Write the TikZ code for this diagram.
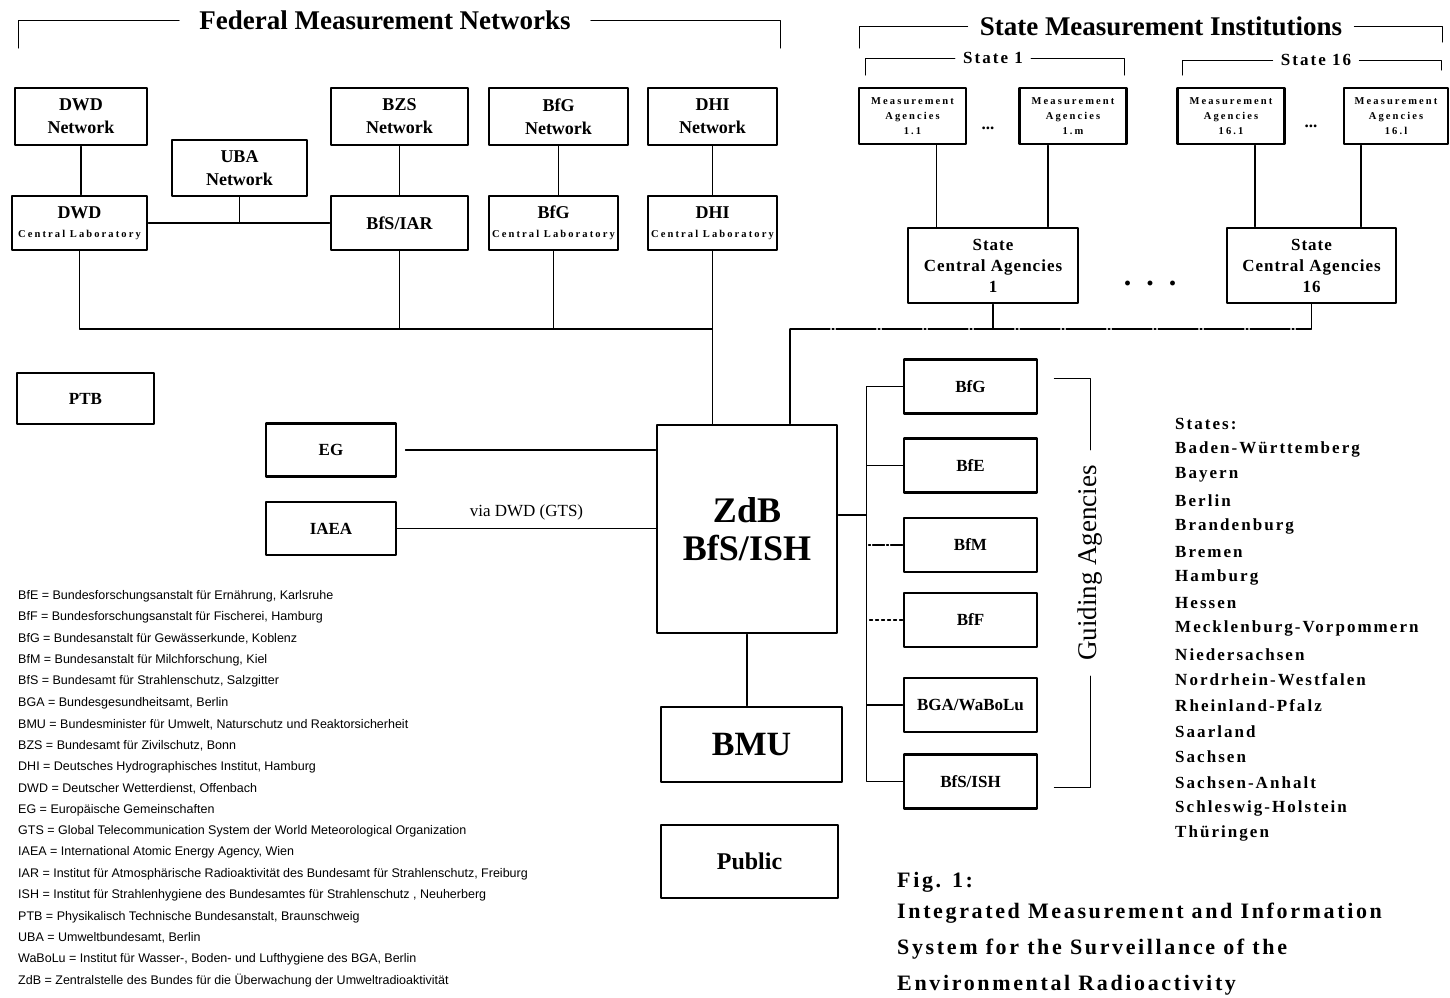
\documentclass[tikz,border=0pt]{standalone}
\usepackage{fontspec}
\setmainfont{Liberation Serif}
\newfontfamily\legendfont{Liberation Sans}
\newfontfamily\lightspacedfont[LetterSpace=6]{Liberation Serif}
\newfontfamily\spacedfont[LetterSpace=12]{Liberation Serif}
\newfontfamily\widefont[LetterSpace=20]{Liberation Serif}
\providecommand{\imisBoxLineWidth}{2.9pt}
\providecommand{\imisLinkLineWidth}{1.1pt}
\tikzset{
  agency/.style={draw, line width=\imisBoxLineWidth, align=center, inner sep=0pt,
    font=\bfseries\fontsize{18}{23}\selectfont},
  netbox/.style={agency, minimum height=57pt},
  labbox/.style={agency, minimum height=54pt},
  measbox/.style={agency, minimum width=107pt, minimum height=56pt,
    font=\widefont\bfseries\fontsize{10.5}{15}\selectfont},
  guidebox/.style={agency, minimum width=133pt, minimum height=54pt,
    font=\bfseries\fontsize{17}{20}\selectfont},
  link/.style={line width=\imisLinkLineWidth},
  bracket/.style={line width=1pt},
  head/.style={font=\bfseries\fontsize{27}{29}\selectfont, inner xsep=12pt, inner ysep=0pt},
  subhead/.style={font=\spacedfont\bfseries\fontsize{17}{18}\selectfont, inner xsep=8pt, inner ysep=0pt},
  legend/.style={anchor=west, inner sep=0pt, font=\legendfont\fontsize{12.5}{13}\selectfont},
  stateitem/.style={anchor=west, inner sep=0pt, font=\spacedfont\bfseries\fontsize{17}{18}\selectfont},
  caption/.style={anchor=west, inner sep=0pt, font=\spacedfont\bfseries\fontsize{22}{24}\selectfont},
}
\newcommand{\smalllab}[1]{{\widefont\fontsize{10.5}{12}\selectfont #1}}
\begin{document}
\begin{tikzpicture}
% one unit = one pixel of the scanned figure, y running downwards
\begin{scope}[x=1pt, y=-1pt, line cap=round, line join=round]
  \fill[white] (0,0) rectangle (1450,997);
  \useasboundingbox (0,0) rectangle (1450,997);
  % Headers with brackets
  \node[head, inner xsep=20pt] (fedhead) at (385,20) {Federal Measurement Networks};
  \coordinate (fedL) at (18,48);
  \coordinate (fedR) at (780,48);
  \draw[bracket] (fedL) |- (fedhead.west);
  \draw[bracket] (fedhead.east) -| (fedR);
  \node[head] (statehead) at (1161,26) {State Measurement Institutions};
  \coordinate (stateL) at (859,48);
  \coordinate (stateR) at (1442,42);
  \draw[bracket] (stateL) |- (statehead.west);
  \draw[bracket] (statehead.east) -| (stateR);
  \node[subhead] (state1) at (993,58) {State 1};
  \coordinate (state1L) at (865,75);
  \coordinate (state1R) at (1124,75);
  \draw[bracket] (state1L) |- (state1.west);
  \draw[bracket] (state1.east) -| (state1R);
  \node[subhead] (state16) at (1316,60) {State 16};
  \coordinate (state16L) at (1182,75);
  \coordinate (state16R) at (1441,70);
  \draw[bracket] (state16L) |- (state16.west);
  \draw[bracket] (state16.east) -| (state16R);
  % Federal networks
  \node[netbox, minimum width=132pt] (dwdnet) at (81,116.5) {DWD\\Network};
  \node[netbox, minimum width=135pt, minimum height=56pt] (ubanet) at (239.5,168) {UBA\\Network};
  \node[netbox, minimum width=137pt] (bzsnet) at (399.5,116.5) {BZS\\Network};
  \node[netbox, minimum width=139pt] (bfgnet) at (558.5,116.5) {BfG\\Network};
  \node[netbox, minimum width=129pt] (dhinet) at (712.5,116.5) {DHI\\Network};
  \node[labbox, minimum width=135pt] (dwdlab) at (79.5,223) {DWD\\[-4pt]\smalllab{Central Laboratory}};
  \node[labbox, minimum width=137pt] (bfsiar) at (399.5,223) {BfS/IAR};
  \node[labbox, minimum width=129pt] (bfglab) at (553.5,223) {BfG\\[-4pt]\smalllab{Central Laboratory}};
  \node[labbox, minimum width=129pt] (dhilab) at (712.5,223) {DHI\\[-4pt]\smalllab{Central Laboratory}};
  \draw[link] (dwdnet.south) -- (dwdnet.south |- dwdlab.north);
  \draw[link] (bzsnet.south) -- (bfsiar.north);
  \draw[link] (bfgnet.south) -- (bfgnet.south |- bfglab.north);
  \draw[link] (dhinet.south) -- (dhilab.north);
  \draw[link] (dwdlab.east) -- (bfsiar.west);
  \draw[link] (ubanet.south) -- (ubanet.south |- dwdlab.east);
  % State institutions
  \node[measbox] (ma11) at (912.5,116) {Measurement\\Agencies\\1.1};
  \node[measbox] (ma1m) at (1073,116) {Measurement\\Agencies\\1.m};
  \node[measbox] (ma161) at (1231,116) {Measurement\\Agencies\\16.1};
  \node[measbox, minimum width=104pt] (ma16l) at (1396,116) {Measurement\\Agencies\\16.l};
  \node[font=\bfseries\fontsize{17}{17}\selectfont] (dotsA) at (988,128) {...};
  \node[font=\bfseries\fontsize{17}{17}\selectfont] (dotsB) at (1311,126) {...};
  \node[agency, minimum width=170pt, minimum height=75pt, font=\lightspacedfont\bfseries\fontsize{17}{21}\selectfont] (sca1) at (993,265.5) {State\\Central Agencies\\1};
  \node[agency, minimum width=169pt, minimum height=75pt, font=\lightspacedfont\bfseries\fontsize{17}{21}\selectfont] (sca16) at (1311.5,265.5) {State\\Central Agencies\\16};
  \node[font=\bfseries\fontsize{30}{30}\selectfont] (dotsC) at (1150,283) {.\hspace{15pt}.\hspace{15pt}.};
  \draw[link] ([xshift=24pt]ma11.south) -- ([xshift=24pt]ma11.south |- sca1.north);
  \draw[link] ([xshift=-25pt]ma1m.south) -- ([xshift=-25pt]ma1m.south |- sca1.north);
  \draw[link] ([xshift=24pt]ma161.south) -- ([xshift=24pt]ma161.south |- sca16.north);
  \draw[link] ([xshift=-35pt]ma16l.south) -- ([xshift=-35pt]ma16l.south |- sca16.north);
  % Central node and its partners
  \node[agency, minimum width=180pt, minimum height=208pt, font=\bfseries\fontsize{36}{38}\selectfont] (zdb) at (747,529) {ZdB\\BfS/ISH};
  \node[agency, minimum width=181pt, minimum height=75pt, font=\bfseries\fontsize{34}{36}\selectfont] (bmu) at (751.5,744.5) {BMU};
  \node[agency, minimum width=177pt, minimum height=73pt, font=\bfseries\fontsize{24}{26}\selectfont] (public) at (749.5,861.5) {Public};
  \node[agency, minimum width=137pt, minimum height=51pt, font=\bfseries\fontsize{17}{20}\selectfont] (ptb) at (85.5,398.5) {PTB};
  \node[agency, minimum width=130pt, minimum height=53pt, font=\bfseries\fontsize{17}{20}\selectfont] (eg) at (331,450) {EG};
  \node[agency, minimum width=130pt, minimum height=53pt, font=\bfseries\fontsize{17}{20}\selectfont] (iaea) at (331,528.5) {IAEA};
  \draw[link] (zdb.south) -- (zdb.south |- bmu.north);
  \draw[link] ([xshift=8pt]eg.east) -- (eg.east -| zdb.west);
  \draw[link] (iaea.east) -- node[above=5pt, font=\fontsize{17}{18}\selectfont] (gts) {via DWD (GTS)} (iaea.east -| zdb.west);
  % Buses into ZdB
  \draw[link] (dwdlab.south) |- (dhilab.south |- 0,329);
  \draw[link] (dhilab.south) -- (dhilab.south |- zdb.north);
  \draw[link] (bfsiar.south) -- (bfsiar.south |- 0,329);
  \draw[link] (bfglab.south) -- (bfglab.south |- 0,329);
  \coordinate (zdbin) at (790,329);
  \draw[link, dash pattern=on 40pt off 2pt on 2pt off 2pt] (sca16.south) |- (zdbin);
  \draw[link] (zdbin) -- (zdbin |- zdb.north);
  \draw[link] (sca1.south) -- (sca1.south |- zdbin);
  % Guiding agencies
  \node[guidebox] (bfg) at (970.5,386.5) {BfG};
  \node[guidebox] (bfe) at (970.5,465.5) {BfE};
  \node[guidebox] (bfm) at (970.5,545) {BfM};
  \node[guidebox] (bff) at (970.5,620) {BfF};
  \node[guidebox] (bga) at (970.5,705) {BGA/WaBoLu};
  \node[guidebox] (bfsish) at (970.5,781.5) {BfS/ISH};
  \coordinate (gtrunk) at ([xshift=-36pt]bfg.west);
  \draw[link] (bfg.west) -- (gtrunk) -- (gtrunk |- bfsish.west) -- (bfsish.west);
  \draw[link] (bfe.west) -- (bfe.west -| gtrunk);
  \draw[link, dash pattern=on 12pt off 2pt on 2pt off 2pt] (bfm.west) -- (bfm.west -| gtrunk);
  \draw[link, dash pattern=on 3pt off 3pt] (bff.west) -- (bff.west -| gtrunk);
  \draw[link] (bga.west) -- (bga.west -| gtrunk);
  \draw[link] ([yshift=14pt]zdb.east) -- ([yshift=14pt]zdb.east -| gtrunk);
  \node[rotate=90, inner xsep=15pt, inner ysep=0pt, font=\fontsize{27}{28}\selectfont] (guide) at (1090,563) {Guiding Agencies};
  \draw[bracket] ([xshift=16pt,yshift=8pt]bfg.east) -| (guide.east);
  \draw[bracket] ([xshift=16pt,yshift=-6pt]bfsish.east) -| (guide.west);
  % List of states
  \foreach \stname [count=\i from 0] in {States:, Baden-Württemberg, Bayern, Berlin, Brandenburg, Bremen, Hamburg, Hessen, Mecklenburg-Vorpommern, Niedersachsen, Nordrhein-Westfalen, Rheinland-Pfalz, Saarland, Sachsen, Sachsen-Anhalt, Schleswig-Holstein, Thüringen}
    \node[stateitem] (land\i) at (1175,{424+25.6*\i}) {\stname};
  % Caption
  \node[caption] (figno) at (897,882) {Fig. 1:};
  \node[caption] (cap1) at (897,913) {Integrated Measurement and Information};
  \node[caption] (cap2) at (897,949) {System for the Surveillance of the};
  \node[caption] (cap3) at (897,985) {Environmental Radioactivity};
  % Abbreviations
  \foreach \entry [count=\i from 0] in {
    {BfE = Bundesforschungsanstalt für Ernährung, Karlsruhe},
    {BfF = Bundesforschungsanstalt für Fischerei, Hamburg},
    {BfG = Bundesanstalt für Gewässerkunde, Koblenz},
    {BfM = Bundesanstalt für Milchforschung, Kiel},
    {BfS = Bundesamt für Strahlenschutz, Salzgitter},
    {BGA = Bundesgesundheitsamt, Berlin},
    {BMU = Bundesminister für Umwelt, Naturschutz und Reaktorsicherheit},
    {BZS = Bundesamt für Zivilschutz, Bonn},
    {DHI = Deutsches Hydrographisches Institut, Hamburg},
    {DWD = Deutscher Wetterdienst, Offenbach},
    {EG = Europäische Gemeinschaften},
    {GTS = Global Telecommunication System der World Meteorological Organization},
    {IAEA = International Atomic Energy Agency, Wien},
    {IAR = Institut für Atmosphärische Radioaktivität des Bundesamt für Strahlenschutz, Freiburg},
    {ISH = Institut für Strahlenhygiene des Bundesamtes für Strahlenschutz , Neuherberg},
    {PTB = Physikalisch Technische Bundesanstalt, Braunschweig},
    {UBA = Umweltbundesamt, Berlin},
    {WaBoLu = Institut für Wasser-, Boden- und Lufthygiene des BGA, Berlin},
    {ZdB = Zentralstelle des Bundes für die Überwachung der Umweltradioaktivität}}
    \node[legend] (leg\i) at (18,{596+21.39*\i}) {\entry};
\end{scope}
\end{tikzpicture}
\end{document}
